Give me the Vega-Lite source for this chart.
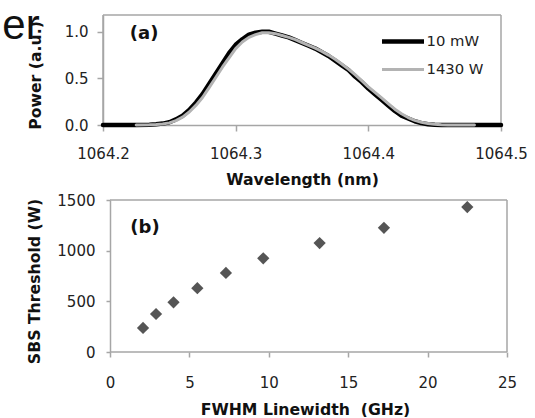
{
  "$schema": "https://vega.github.io/schema/vega-lite/v6.json",
  "padding": {"left": 2, "top": 5, "right": 0, "bottom": 0},
  "datasets": {
    "spectrum": [
      {"wl": 1064.200, "p": 0, "series": "10 mW"},
      {"wl": 1064.225, "p": 0, "series": "10 mW"},
      {"wl": 1064.235, "p": 0.003, "series": "10 mW"},
      {"wl": 1064.240, "p": 0.008, "series": "10 mW"},
      {"wl": 1064.245, "p": 0.015, "series": "10 mW"},
      {"wl": 1064.250, "p": 0.03, "series": "10 mW"},
      {"wl": 1064.255, "p": 0.06, "series": "10 mW"},
      {"wl": 1064.260, "p": 0.10, "series": "10 mW"},
      {"wl": 1064.265, "p": 0.16, "series": "10 mW"},
      {"wl": 1064.270, "p": 0.24, "series": "10 mW"},
      {"wl": 1064.275, "p": 0.33, "series": "10 mW"},
      {"wl": 1064.280, "p": 0.44, "series": "10 mW"},
      {"wl": 1064.285, "p": 0.55, "series": "10 mW"},
      {"wl": 1064.290, "p": 0.66, "series": "10 mW"},
      {"wl": 1064.295, "p": 0.77, "series": "10 mW"},
      {"wl": 1064.300, "p": 0.86, "series": "10 mW"},
      {"wl": 1064.305, "p": 0.92, "series": "10 mW"},
      {"wl": 1064.310, "p": 0.97, "series": "10 mW"},
      {"wl": 1064.315, "p": 0.99, "series": "10 mW"},
      {"wl": 1064.320, "p": 1.00, "series": "10 mW"},
      {"wl": 1064.325, "p": 1.00, "series": "10 mW"},
      {"wl": 1064.330, "p": 0.98, "series": "10 mW"},
      {"wl": 1064.335, "p": 0.96, "series": "10 mW"},
      {"wl": 1064.340, "p": 0.94, "series": "10 mW"},
      {"wl": 1064.345, "p": 0.91, "series": "10 mW"},
      {"wl": 1064.350, "p": 0.88, "series": "10 mW"},
      {"wl": 1064.355, "p": 0.85, "series": "10 mW"},
      {"wl": 1064.360, "p": 0.82, "series": "10 mW"},
      {"wl": 1064.365, "p": 0.78, "series": "10 mW"},
      {"wl": 1064.370, "p": 0.74, "series": "10 mW"},
      {"wl": 1064.375, "p": 0.69, "series": "10 mW"},
      {"wl": 1064.380, "p": 0.64, "series": "10 mW"},
      {"wl": 1064.385, "p": 0.59, "series": "10 mW"},
      {"wl": 1064.390, "p": 0.52, "series": "10 mW"},
      {"wl": 1064.395, "p": 0.46, "series": "10 mW"},
      {"wl": 1064.400, "p": 0.39, "series": "10 mW"},
      {"wl": 1064.405, "p": 0.33, "series": "10 mW"},
      {"wl": 1064.410, "p": 0.27, "series": "10 mW"},
      {"wl": 1064.415, "p": 0.21, "series": "10 mW"},
      {"wl": 1064.420, "p": 0.15, "series": "10 mW"},
      {"wl": 1064.425, "p": 0.10, "series": "10 mW"},
      {"wl": 1064.430, "p": 0.07, "series": "10 mW"},
      {"wl": 1064.435, "p": 0.04, "series": "10 mW"},
      {"wl": 1064.440, "p": 0.02, "series": "10 mW"},
      {"wl": 1064.445, "p": 0.008, "series": "10 mW"},
      {"wl": 1064.450, "p": 0.003, "series": "10 mW"},
      {"wl": 1064.455, "p": 0, "series": "10 mW"},
      {"wl": 1064.500, "p": 0, "series": "10 mW"},
      {"wl": 1064.225, "p": 0, "series": "1430 W"},
      {"wl": 1064.235, "p": 0.002, "series": "1430 W"},
      {"wl": 1064.240, "p": 0.005, "series": "1430 W"},
      {"wl": 1064.245, "p": 0.011, "series": "1430 W"},
      {"wl": 1064.250, "p": 0.023, "series": "1430 W"},
      {"wl": 1064.255, "p": 0.047, "series": "1430 W"},
      {"wl": 1064.260, "p": 0.085, "series": "1430 W"},
      {"wl": 1064.265, "p": 0.14, "series": "1430 W"},
      {"wl": 1064.270, "p": 0.21, "series": "1430 W"},
      {"wl": 1064.275, "p": 0.295, "series": "1430 W"},
      {"wl": 1064.280, "p": 0.40, "series": "1430 W"},
      {"wl": 1064.285, "p": 0.51, "series": "1430 W"},
      {"wl": 1064.290, "p": 0.62, "series": "1430 W"},
      {"wl": 1064.295, "p": 0.72, "series": "1430 W"},
      {"wl": 1064.300, "p": 0.82, "series": "1430 W"},
      {"wl": 1064.305, "p": 0.89, "series": "1430 W"},
      {"wl": 1064.310, "p": 0.94, "series": "1430 W"},
      {"wl": 1064.315, "p": 0.97, "series": "1430 W"},
      {"wl": 1064.320, "p": 0.99, "series": "1430 W"},
      {"wl": 1064.325, "p": 0.99, "series": "1430 W"},
      {"wl": 1064.330, "p": 0.98, "series": "1430 W"},
      {"wl": 1064.335, "p": 0.96, "series": "1430 W"},
      {"wl": 1064.340, "p": 0.94, "series": "1430 W"},
      {"wl": 1064.345, "p": 0.915, "series": "1430 W"},
      {"wl": 1064.350, "p": 0.885, "series": "1430 W"},
      {"wl": 1064.355, "p": 0.855, "series": "1430 W"},
      {"wl": 1064.360, "p": 0.825, "series": "1430 W"},
      {"wl": 1064.365, "p": 0.79, "series": "1430 W"},
      {"wl": 1064.370, "p": 0.75, "series": "1430 W"},
      {"wl": 1064.375, "p": 0.705, "series": "1430 W"},
      {"wl": 1064.380, "p": 0.655, "series": "1430 W"},
      {"wl": 1064.385, "p": 0.60, "series": "1430 W"},
      {"wl": 1064.390, "p": 0.54, "series": "1430 W"},
      {"wl": 1064.395, "p": 0.475, "series": "1430 W"},
      {"wl": 1064.400, "p": 0.41, "series": "1430 W"},
      {"wl": 1064.405, "p": 0.35, "series": "1430 W"},
      {"wl": 1064.410, "p": 0.29, "series": "1430 W"},
      {"wl": 1064.415, "p": 0.23, "series": "1430 W"},
      {"wl": 1064.420, "p": 0.17, "series": "1430 W"},
      {"wl": 1064.425, "p": 0.12, "series": "1430 W"},
      {"wl": 1064.430, "p": 0.08, "series": "1430 W"},
      {"wl": 1064.435, "p": 0.05, "series": "1430 W"},
      {"wl": 1064.440, "p": 0.03, "series": "1430 W"},
      {"wl": 1064.445, "p": 0.015, "series": "1430 W"},
      {"wl": 1064.450, "p": 0.007, "series": "1430 W"},
      {"wl": 1064.455, "p": 0.003, "series": "1430 W"},
      {"wl": 1064.460, "p": 0.001, "series": "1430 W"},
      {"wl": 1064.480, "p": 0, "series": "1430 W"}
    ],
    "threshold": [
      {"fwhm": 2.08, "sbs": 237},
      {"fwhm": 2.9, "sbs": 375},
      {"fwhm": 4.0, "sbs": 490},
      {"fwhm": 5.5, "sbs": 630},
      {"fwhm": 7.3, "sbs": 780},
      {"fwhm": 9.65, "sbs": 925},
      {"fwhm": 13.2, "sbs": 1075},
      {"fwhm": 17.25, "sbs": 1225},
      {"fwhm": 22.5, "sbs": 1430}
    ]
  },
  "vconcat": [
    {
      "width": 398,
      "height": 110,
      "view": {"stroke": null},
      "layer": [
        {
          "data": {"values": [{}]},
          "mark": {"type": "text", "text": "er", "font": "Liberation Sans", "fontSize": 42, "color": "#111111", "align": "left", "baseline": "top"},
          "encoding": {"x": {"datum": 1064.1241}, "y": {"datum": 1.2765}}
        },
        {
          "data": {"values": [{}]},
          "mark": {"type": "rule", "color": "#a6a6a6", "strokeWidth": 1.5},
          "encoding": {"x": {"datum": 1064.2}, "x2": {"datum": 1064.5}, "y": {"datum": 1.18}}
        },
        {
          "data": {"values": [{}]},
          "mark": {"type": "rule", "color": "#a6a6a6", "strokeWidth": 1.5},
          "encoding": {"x": {"datum": 1064.5}, "y": {"datum": 0}, "y2": {"datum": 1.18}}
        },
        {
          "data": {"values": [{}]},
          "mark": {"type": "rule", "color": "#a6a6a6", "strokeWidth": 1.5},
          "encoding": {"x": {"datum": 1064.2}, "y": {"datum": 0}, "y2": {"datum": 1.18}}
        },
        {
          "data": {"name": "spectrum"},
          "mark": {"type": "line", "strokeCap": "round", "strokeJoin": "round"},
          "encoding": {
            "x": {
              "field": "wl", "type": "quantitative",
              "scale": {"domain": [1064.2, 1064.5], "nice": false, "zero": false},
              "axis": {"values": [1064.2, 1064.3, 1064.4, 1064.5], "format": ".1f", "title": "Wavelength (nm)", "tickSize": 6, "labelPadding": 15, "titlePadding": 11, "labelFlush": false}
            },
            "y": {
              "field": "p", "type": "quantitative",
              "scale": {"domain": [0, 1.18], "nice": false},
              "axis": {"values": [0, 0.5, 1.0], "format": ".1f", "title": "Power (a.u.)", "tickSize": 6, "labelPadding": 9, "titlePadding": 21, "titleY": 60}
            },
            "color": {
              "field": "series", "type": "nominal",
              "scale": {"domain": ["10 mW", "1430 W"], "range": ["#000000", "#b3b3b3"]},
              "legend": {"orient": "none", "legendX": 280, "legendY": 6.5, "title": null, "symbolType": "M-1.2,0H1.2", "symbolSize": 1225, "labelFontSize": 14.8, "labelColor": "#222", "labelOffset": 3.5, "rowPadding": 0, "padding": 0}
            },
            "strokeWidth": {
              "field": "series", "type": "nominal",
              "scale": {"domain": ["10 mW", "1430 W"], "range": [4.5, 3]},
              "legend": {"orient": "none", "legendX": 280, "legendY": 6.5, "title": null, "symbolType": "M-1.2,0H1.2", "symbolSize": 1225, "labelFontSize": 14.8, "labelColor": "#222", "labelOffset": 3.5, "rowPadding": 0, "padding": 0}
            }
          }
        },
        {
          "data": {"values": [{}]},
          "mark": {"type": "text", "text": "(a)", "fontSize": 18, "fontWeight": "bold", "color": "#111", "align": "center", "baseline": "middle"},
          "encoding": {"x": {"datum": 1064.231}, "y": {"datum": 0.98}}
        }
      ]
    },
    {
      "width": 404,
      "height": 152,
      "view": {"stroke": null},
      "layer": [
        {
          "data": {"values": [{}]},
          "mark": {"type": "rule", "color": "#a6a6a6", "strokeWidth": 1.5},
          "encoding": {"x": {"datum": 0}, "x2": {"datum": 25}, "y": {"datum": 1500}}
        },
        {
          "data": {"values": [{}]},
          "mark": {"type": "rule", "color": "#a6a6a6", "strokeWidth": 1.5},
          "encoding": {"x": {"datum": 0}, "x2": {"datum": 25}, "y": {"datum": 0}}
        },
        {
          "data": {"values": [{}]},
          "mark": {"type": "rule", "color": "#a6a6a6", "strokeWidth": 1.5},
          "encoding": {"x": {"datum": 25}, "y": {"datum": 0}, "y2": {"datum": 1500}}
        },
        {
          "data": {"name": "threshold"},
          "mark": {"type": "point", "shape": "diamond", "filled": true, "size": 150, "color": "#555555", "opacity": 1},
          "encoding": {
            "x": {
              "field": "fwhm", "type": "quantitative",
              "scale": {"domain": [-0.441, 25], "nice": false, "zero": false},
              "axis": {"values": [0, 5, 10, 15, 20, 25], "format": "d", "title": "FWHM Linewidth\u00a0 (GHz)", "tickSize": 5, "labelPadding": 18, "titlePadding": 12, "labelFlush": false, "domain": false}
            },
            "y": {
              "field": "sbs", "type": "quantitative",
              "scale": {"domain": [0, 1500], "nice": false},
              "axis": {"values": [0, 500, 1000, 1500], "format": "d", "title": "SBS Threshold (W)", "tickSize": 4, "labelPadding": 11, "titlePadding": 14, "titleY": 81, "offset": -7}
            }
          }
        },
        {
          "data": {"values": [{}]},
          "mark": {"type": "text", "text": "(b)", "fontSize": 18, "fontWeight": "bold", "color": "#111", "align": "center", "baseline": "middle"},
          "encoding": {"x": {"datum": 2.2}, "y": {"datum": 1225}}
        }
      ]
    }
  ],
  "spacing": 6,
  "config": {
    "font": "DejaVu Sans",
    "view": {"stroke": null},
    "axis": {
      "grid": false,
      "domainColor": "#a6a6a6", "domainWidth": 1.5,
      "tickColor": "#a6a6a6", "tickWidth": 1.5,
      "labelColor": "#222222", "labelFont": "DejaVu Sans", "labelFontSize": 15,
      "titleFont": "DejaVu Sans", "titleFontWeight": "bold", "titleColor": "#111111", "titleFontSize": 15.7
    },
    "legend": {"labelFont": "DejaVu Sans"}
  }
}
